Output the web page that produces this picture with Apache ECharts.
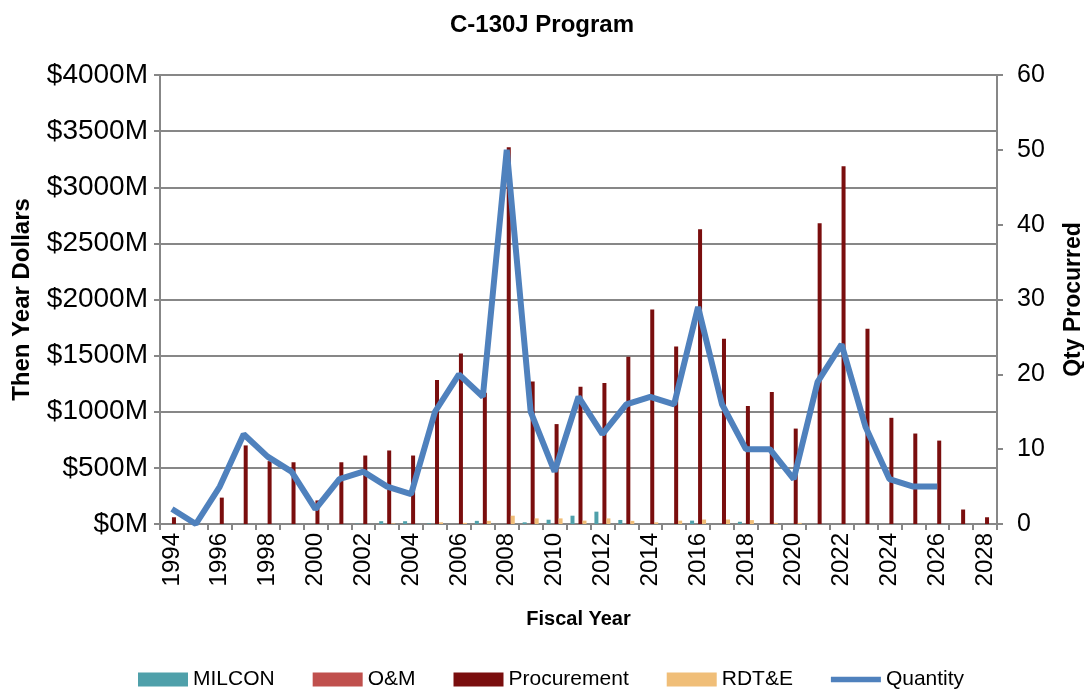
<!DOCTYPE html>
<html>
<head>
<meta charset="utf-8">
<script src="https://cdn.jsdelivr.net/npm/echarts@6/dist/echarts.min.js"></script>
<style>
html,body{margin:0;padding:0;background:#fff;}
#chart{width:1084px;height:698px;}
</style>
</head>
<body>
<div id="chart"></div>
<script>
const years = ['1994','1995','1996','1997','1998','1999','2000','2001','2002','2003','2004','2005','2006','2007','2008','2009','2010','2011','2012','2013','2014','2015','2016','2017','2018','2019','2020','2021','2022','2023','2024','2025','2026','2027','2028'];
const milcon = [0,0,0,0,0,0,0,0,3,25,25,5,0,28,0,15,38,74,110,36,0,0,30,0,20,0,0,0,0,0,0,0,0,0,0];
const om = [0,0,0,0,0,0,0,0,0,0,0,0,0,0,0,0,0,0,0,0,0,0,0,0,0,0,0,0,0,0,0,0,0,0,0];
const procurement = [60,0,235,700,560,550,210,550,610,655,610,1283,1520,1170,3357,1270,890,1223,1256,1491,1910,1581,2626,1650,1051,1177,850,2680,3187,1740,946,806,743,129,60];
const rdte = [0,0,0,0,0,0,0,0,0,5,0,15,10,28,74,50,50,30,50,28,15,30,40,40,35,10,10,0,0,0,0,0,0,0,0];
const quantity = [2,0,5,12,9,7,2,6,7,5,4,15,20,17,50,15,7,17,12,16,17,16,29,16,10,10,6,19,24,13,6,5,5,null,null];

const FONT = '"Liberation Sans", Arial, sans-serif';
const TXT = '#000';
const GRID = '#878787';

const chart = echarts.init(document.getElementById('chart'), null, {renderer:'canvas'});
const barBase = {type:'bar', barWidth:4, barGap:'0%', yAxisIndex:0};
chart.setOption({
  animation:false,
  backgroundColor:'#fff',
  title:{text:'C-130J Program', left:'center', top:8,
    textStyle:{fontFamily:FONT, fontSize:24, fontWeight:'bold', color:TXT}},
  legend:{bottom:3, left:133, itemWidth:50, itemHeight:14, itemGap:38,
    textStyle:{fontFamily:FONT, fontSize:21, color:TXT},
    data:[
      {name:'MILCON', icon:'rect'},
      {name:'O&M', icon:'rect'},
      {name:'Procurement', icon:'rect'},
      {name:'RDT&E', icon:'rect'},
      {name:'Quantity', icon:'path://M0,0 L55,0 L55,6 L0,6 Z', itemStyle:{color:'#4F81BD'}}
    ]},
  grid:{left:160, right:87, top:75, bottom:174, containLabel:false, outerBoundsMode:'none'},
  xAxis:{type:'category', data:years, boundaryGap:true,
    name:'Fiscal Year', nameLocation:'middle', nameGap:85, nameMoveOverlap:false,
    nameTextStyle:{fontFamily:FONT, fontSize:20, fontWeight:'bold', color:TXT},
    axisLine:{lineStyle:{color:GRID, width:2}},
    axisTick:{show:true, interval:0, alignWithLabel:false, length:6, lineStyle:{color:GRID, width:2}},
    axisLabel:{interval:1, rotate:90, margin:9, fontFamily:FONT, fontSize:24, color:TXT}},
  yAxis:[
    {type:'value', min:0, max:4000, interval:500, position:'left',
     name:'Then Year Dollars', nameLocation:'middle', nameGap:126, nameRotate:90, nameMoveOverlap:false,
     nameTextStyle:{fontFamily:FONT, fontSize:24, fontWeight:'bold', color:TXT},
     axisLine:{show:true, lineStyle:{color:GRID, width:2}},
     axisTick:{show:true, length:6, lineStyle:{color:GRID, width:2}},
     splitLine:{show:true, lineStyle:{color:GRID, width:2}},
     axisLabel:{margin:12, fontFamily:FONT, fontSize:28, color:TXT,
       formatter:v => '$' + v + 'M'}},
    {type:'value', min:0, max:60, interval:10, position:'right',
     name:'Qty Procurred', nameLocation:'middle', nameGap:65, nameRotate:90, nameMoveOverlap:false,
     nameTextStyle:{fontFamily:FONT, fontSize:23, fontWeight:'bold', color:TXT},
     axisLine:{show:true, lineStyle:{color:GRID, width:2}},
     axisTick:{show:true, length:6, lineStyle:{color:GRID, width:2}},
     splitLine:{show:false},
     axisLabel:{margin:20, fontFamily:FONT, fontSize:25, color:TXT}}
  ],
  series:[
    Object.assign({name:'MILCON', data:milcon, itemStyle:{color:'#4FA0AA'}}, barBase),
    Object.assign({name:'O&M', data:om, itemStyle:{color:'#C0504D'}}, barBase),
    Object.assign({name:'Procurement', data:procurement, itemStyle:{color:'#7A0E0E'}}, barBase),
    Object.assign({name:'RDT&E', data:rdte, itemStyle:{color:'#F0BE78'}}, barBase),
    {name:'Quantity', type:'line', yAxisIndex:1, data:quantity, showSymbol:false, symbol:'none',
     lineStyle:{color:'#4F81BD', width:6}, itemStyle:{color:'#4F81BD'}, z:5}
  ]
});
</script>
</body>
</html>
